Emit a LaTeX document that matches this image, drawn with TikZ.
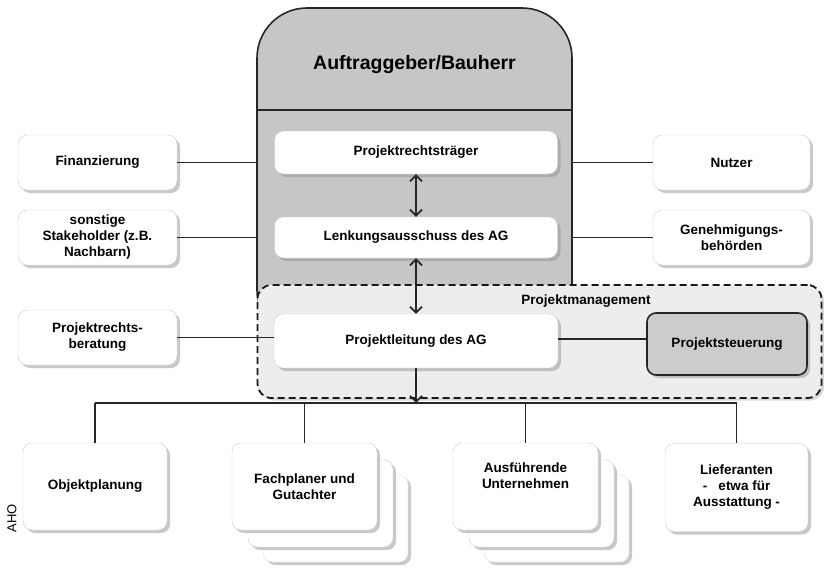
\documentclass[tikz,border=0pt]{standalone}
\usepackage{fontspec}
\setmainfont{Liberation Sans}
\usetikzlibrary{positioning,shadows,arrows.meta,calc}
\newcommand{\boxfont}{\fontsize{13.5}{16}\selectfont\bfseries}
\newcommand{\backcopies}[2]{
	\node[box, minimum width=145, minimum height=87, draw=gray!25,
		drop shadow={shadow xshift=2pt, shadow yshift=-2pt, fill=gray!40}] (#1c) at ($(#2)+(31,32)$) {};
	\node[box, minimum width=145, minimum height=87] (#1b) at ($(#2)+(16,17)$) {};
}

\begin{document}
\begin{tikzpicture}[x=1pt,y=-1pt,
	box/.style={draw=gray!40, fill=white, rounded corners=9pt, align=center, font=\boxfont,
		inner sep=2pt, drop shadow={shadow xshift=3pt, shadow yshift=-3pt, fill=gray!85}},
	link/.style={line width=1.7pt, black!85},
	tip/.style={link, arrows={Straight Barb[length=6pt,width=12pt]-Straight Barb[length=6pt,width=12pt]}}]
	\useasboundingbox (0,0) rectangle (824,570);

	% client block
	\node[draw=black!85, line width=1.6pt, fill=gray!45, rounded corners=50pt,
		minimum width=315, minimum height=332] (ag) at (414.5,174) {};
	\node[font=\fontsize{19.5}{22}\selectfont\bfseries] (agtitle) at (414.5,65) {Auftraggeber/Bauherr};
	\draw[link] (ag.west |- 0,110) -- (ag.east |- 0,110);

	\node[box, minimum width=283, minimum height=43] (prt) at (416,152.5) {Projektrechtsträger};
	\node[box, minimum width=283, minimum height=41] (lenk) at (416,237.5) {Lenkungsausschuss des AG};

	% project management
	\node[draw=black!90, dash pattern=on 7pt off 4pt, line width=1.8pt, fill=gray!14,
		rounded corners=14pt, minimum width=564, minimum height=113,
		drop shadow={shadow xshift=2.5pt, shadow yshift=-2.5pt, fill=gray!60}] (pm) at (539.5,341.5) {};
	\node[font=\boxfont] (pmtitle) at (586,301) {Projektmanagement};
	\node[box, minimum width=284, minimum height=54] (leit) at (416,341) {Projektleitung des AG};
	\node[box, draw=black!85, line width=1.6pt, fill=gray!40, minimum width=160, minimum height=62] (steu) at (727,344) {Projektsteuerung};

	% left and right
	\node[box, minimum width=159, minimum height=55] (fin) at (97.5,162.5) {Finanzierung};
	\node[box, minimum width=159, minimum height=55] (stake) at (97.5,237.5) {sonstige\\Stakeholder (z.B.\\Nachbarn)};
	\node[box, minimum width=159, minimum height=55] (prb) at (97.5,337.5) {Projektrechts-\\beratung};
	\node[box, minimum width=157, minimum height=55] (nutzer) at (731.5,162.5) {Nutzer};
	\node[box, minimum width=157, minimum height=55] (gen) at (731.5,237.5) {Genehmigungs-\\behörden};

	% contractors
	\coordinate (bus) at (416,403);
	\node[box, minimum width=144, minimum height=87] (obj) at (95,486.5) {Objektplanung};
	\backcopies{fach}{304.5,486.5}
	\node[box, minimum width=145, minimum height=87] (fach) at (304.5,486.5) {Fachplaner und\\Gutachter};
	\backcopies{ausf}{525.5,486.5}
	\node[box, minimum width=145, minimum height=87] (ausf) at (525.5,486.5) {Ausführende\\Unternehmen\\[6pt]};
	\node[box, minimum width=143, minimum height=88] (lief) at (736.5,487.5) {Lieferanten\\-\ \ \ etwa für\\Ausstattung -};

	\node[rotate=90, font=\fontsize{13}{15}\selectfont] (aho) at (12,518) {AHO};

	\draw[tip] (prt.south) -- (lenk.north);
	\draw[tip] (lenk.south) -- (leit.north);
	\draw[link] (fin.east) -- (fin.east -| ag.west);
	\draw[link] (stake.east) -- (stake.east -| ag.west);
	\draw[link] (nutzer.west) -- (nutzer.west -| ag.east);
	\draw[link] (gen.west) -- (gen.west -| ag.east);
	\draw[link] (prb.east) -- (prb.east -| leit.west);
	\draw[link] (leit.east |- 0,339) -- (steu.west |- 0,339);
	\draw[link, -{Straight Barb[length=6pt,width=12pt]}] (leit.south) -- (bus);
	\draw[link] (bus -| obj.north) -- (bus -| lief.north);
	\draw[link] (bus -| obj.north) -- (obj.north);
	\draw[link] (bus -| fach.north) -- (fach.north);
	\draw[link] (bus -| ausf.north) -- (ausf.north);
	\draw[link] (bus -| lief.north) -- (lief.north);

	\end{tikzpicture}
\end{document}
